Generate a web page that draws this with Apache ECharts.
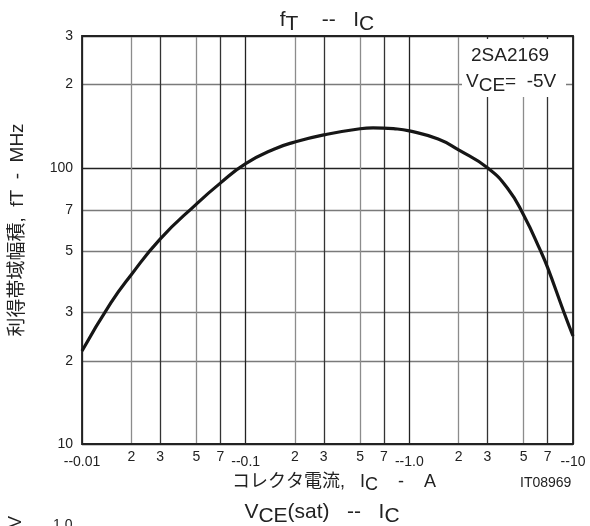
<!DOCTYPE html>
<html>
<head>
<meta charset="utf-8">
<script src="https://cdn.jsdelivr.net/npm/echarts@6/dist/echarts.min.js"></script>
<style>html,body{margin:0;padding:0;background:#fff}#c{width:590px;height:526px}</style>
</head>
<body>
<div id="c"></div>
<script>
// Collector current Ic (A, magnitude) and gain-bandwidth product fT (MHz)
const icValues = [0.01, 0.015, 0.02, 0.03, 0.05, 0.07, 0.1, 0.15, 0.2, 0.3, 0.5, 0.6, 0.8, 1.0, 1.5, 2.0, 3.0, 4.0, 5.0, 6.34, 7.0, 8.8, 10];
const ftValues = [21.7, 32.4, 41, 55.2, 73.9, 88, 103.5, 117, 124, 131.5, 138.5, 139.5, 138.5, 136, 127, 116, 100, 84, 67.3, 50, 43.5, 30, 24.6];
// tick / grid values
const xGridValues = [0.01, 0.02, 0.03, 0.05, 0.07, 0.1, 0.2, 0.3, 0.5, 0.7, 1, 2, 3, 5, 7, 10];
const xMinorLabelValues = [0.02, 0.03, 0.05, 0.07, 0.2, 0.3, 0.5, 0.7, 2, 3, 5, 7];
const xDecadeValues = [0.01, 0.1, 1, 10];
const xDecadeLabels = ['--0.01', '--0.1', '--1.0', '--10'];
const yGridValues = [10, 20, 30, 50, 70, 100, 200, 300];

const FONT = "'Liberation Sans', Arial, 'Noto Sans CJK JP', sans-serif";
const CJK = "'Liberation Sans', 'Noto Sans CJK JP', sans-serif";

function mantissa(v) {
  const e = Math.floor(Math.log10(v) + 1e-9);
  return Math.round(v / Math.pow(10, e));
}

const chart = echarts.init(document.getElementById('c'), null, {renderer: 'canvas'});
const series = icValues.map((x, i) => [x, ftValues[i]]);

chart.setOption({
  animation: false,
  backgroundColor: '#fff',
  grid: {left: 82, right: 17, top: 36, bottom: 82, show: true, borderColor: '#222', borderWidth: 1.8, backgroundColor: 'transparent', z: 3},
  xAxis: [{
    type: 'log', logBase: 10, min: 0.01, max: 10, position: 'bottom',
    axisLine: {show: false},
    axisTick: {show: false, customValues: xGridValues},
    axisLabel: {
      customValues: xMinorLabelValues, interval: 0, margin: 6,
      fontSize: 14, fontFamily: FONT, color: '#222',
      formatter: v => String(mantissa(v))
    },
    splitLine: {show: true, lineStyle: {width: 1.3, color: ['#222', '#8c8c8c', '#333', '#8c8c8c', '#333']}}
  }, {
    type: 'log', logBase: 10, min: 0.01, max: 10, position: 'bottom',
    axisLine: {show: false}, axisTick: {show: false, customValues: xDecadeValues},
    splitLine: {show: false},
    axisLabel: {
      customValues: xDecadeValues, interval: 0, margin: 11, showMinLabel: true, showMaxLabel: true,
      fontSize: 14, fontFamily: FONT, color: '#222',
      formatter: v => {
        const k = Math.round(Math.log10(v)) + 2;
        return xDecadeLabels[k];
      }
    }
  }],
  yAxis: {
    type: 'log', logBase: 10, min: 10, max: 300,
    axisLine: {show: false},
    axisTick: {show: false, customValues: yGridValues},
    axisLabel: {
      customValues: yGridValues, interval: 0, margin: 9, showMinLabel: true, showMaxLabel: true,
      fontSize: 14, fontFamily: FONT, color: '#222',
      formatter: v => { const m = mantissa(v); return m === 1 ? String(Math.round(v)) : String(m); }
    },
    splitLine: {show: true, lineStyle: {width: 1.3, color: ['#222', '#7a7a7a', '#7a7a7a', '#7a7a7a', '#7a7a7a', '#222', '#7a7a7a', '#222']}}
  },
  series: [{
    type: 'line', xAxisIndex: 0, yAxisIndex: 0, data: series,
    smooth: 0.5, showSymbol: false, symbol: 'none',
    lineStyle: {color: '#161616', width: 3.2}, z: 5
  }],
  graphic: [
    {type: 'text', x: 327, y: 20, z: 100, style: {
      text: 'f{s|T}    --   I{s|C}', fontSize: 21, fontFamily: FONT, fill: '#222', align: 'center', verticalAlign: 'middle',
      rich: {s: {fontSize: 21, fontFamily: FONT, fill: '#222', padding: [9, 0, 0, 0]}}
    }},
    {type: 'rect', z: 90, shape: {x: 462, y: 39, width: 104, height: 58}, style: {fill: '#fff'}},
    {type: 'text', x: 471, y: 56, z: 100, style: {
      text: '2SA2169', fontSize: 19, fontFamily: FONT, fill: '#222', align: 'left', verticalAlign: 'middle'
    }},
    {type: 'text', x: 466, y: 82, z: 100, style: {
      text: 'V{s|CE}=  -5V', fontSize: 19, fontFamily: FONT, fill: '#222', align: 'left', verticalAlign: 'middle',
      rich: {s: {fontSize: 19, fontFamily: FONT, fill: '#222', padding: [8, 0, 0, 0]}}
    }},
    {type: 'text', x: 18, y: 230, rotation: Math.PI / 2, z: 100, style: {
      text: '利得帯域幅積,  fT  -  MHz', fontSize: 19, fontFamily: CJK, fill: '#222', align: 'center', verticalAlign: 'middle'
    }},
    {type: 'text', x: 232, y: 482, z: 100, style: {
      text: 'コレクタ電流,   I{s|C}    -    A', fontSize: 18, fontFamily: CJK, fill: '#222', align: 'left', verticalAlign: 'middle',
      rich: {s: {fontSize: 18, fontFamily: CJK, fill: '#222', padding: [7, 0, 0, 0]}}
    }},
    {type: 'text', x: 520, y: 483, z: 100, style: {
      text: 'IT08969', fontSize: 14, fontFamily: FONT, fill: '#222', align: 'left', verticalAlign: 'middle'
    }},
    {type: 'text', x: 322, y: 512, z: 100, style: {
      text: 'V{s|CE}(sat)   --   I{s|C}', fontSize: 21, fontFamily: FONT, fill: '#222', align: 'center', verticalAlign: 'middle',
      rich: {s: {fontSize: 21, fontFamily: FONT, fill: '#222', padding: [8, 0, 0, 0]}}
    }},
    {type: 'text', x: 53, y: 518, z: 100, style: {
      text: '1.0', fontSize: 14, fontFamily: FONT, fill: '#222', align: 'left', verticalAlign: 'top'
    }},
    {type: 'text', x: 25, y: 528, rotation: Math.PI / 2, z: 100, style: {
      text: 'V', fontSize: 18, fontFamily: FONT, fill: '#222', align: 'left', verticalAlign: 'bottom'
    }}
  ]
});
</script>
</body>
</html>
